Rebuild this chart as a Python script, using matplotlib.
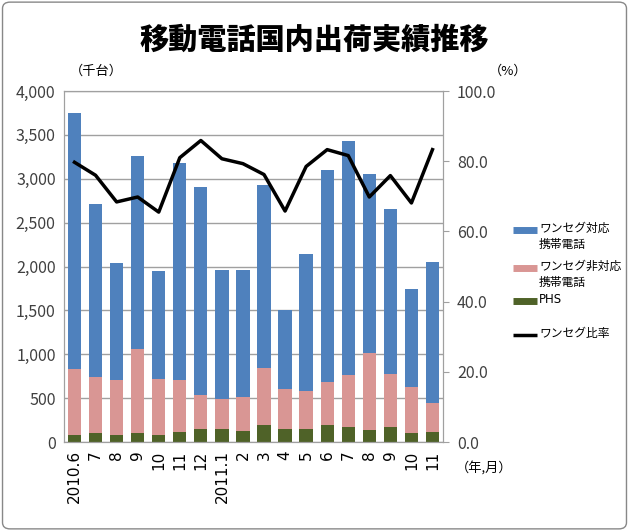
import matplotlib.pyplot as plt
import numpy as np
from matplotlib.lines import Line2D
from matplotlib.patches import FancyBboxPatch

plt.rcParams['font.family'] = ['Noto Sans CJK JP', 'DejaVu Sans']

# 月
months = ['2010.6', '7', '8', '9', '10', '11', '12', '2011.1', '2', '3',
          '4', '5', '6', '7', '8', '9', '10', '11']
# 各系列の積み上げ上端 (千台) から読み取り
total = [3750, 2710, 2040, 3260, 1945, 3175, 2905, 1965, 1965, 2930,
         1500, 2140, 3100, 3430, 3055, 2650, 1740, 2050]
pink_top = [836, 737, 707, 1063, 719, 707, 536, 494, 513, 848,
            608, 577, 685, 760, 1017, 771, 631, 448]
phs = [83, 103, 83, 103, 83, 118, 148, 148, 129, 190,
       148, 148, 190, 167, 137, 167, 103, 114]
# ワンセグ比率 (%)
ratio = [79.7, 76.0, 68.4, 69.8, 65.5, 81.0, 85.9, 80.7, 79.3, 76.2,
         65.8, 78.5, 83.3, 81.6, 69.8, 75.9, 68.1, 83.3]

phs = np.array(phs)
non1seg = np.array(pink_top) - phs
oneseg = np.array(total) - np.array(pink_top)

blue = '#4F81BD'
pink = '#D99694'
green = '#4F6228'

fig = plt.figure(figsize=(6.29, 5.31), dpi=100)
fig.patches.append(FancyBboxPatch((0.004, 0.004), 0.992, 0.992, boxstyle='round,pad=0,rounding_size=0.012',
                                  transform=fig.transFigure, fill=False, edgecolor='#888888', linewidth=1))

ax = fig.add_axes([0.1017, 0.1676, 0.6026, 0.661])
x = np.arange(len(months))
w = 0.63
ax.bar(x, phs, w, color=green, zorder=2)
ax.bar(x, non1seg, w, bottom=phs, color=pink, zorder=2)
ax.bar(x, oneseg, w, bottom=np.array(pink_top), color=blue, zorder=2)

ax.set_xlim(-0.5, len(months) - 0.5)
ax.set_ylim(0, 4000)
ax.set_yticks(range(0, 4001, 500))
ax.set_yticklabels([f'{v:,}' for v in range(0, 4001, 500)], fontsize=11.5, color='#404040')
ax.set_xticks(x)
ax.set_xticklabels(months, rotation=90, fontsize=11, family='DejaVu Sans')
ax.yaxis.grid(True, color='#A0A0A0', linewidth=1, zorder=0)
ax.set_axisbelow(True)
ax.tick_params(axis='both', length=0, pad=6)
for s in ax.spines.values():
    s.set_color('#A0A0A0')

ax2 = ax.twinx()
ax2.plot(x, ratio, color='black', linewidth=2.5, zorder=5)
ax2.set_ylim(0, 100)
ax2.set_yticks(range(0, 101, 20))
ax2.set_yticklabels([f'{v:.1f}' for v in range(0, 101, 20)], fontsize=11.5, color='#404040')
ax2.tick_params(axis='y', length=4, color='#A0A0A0', pad=6)
for s in ax2.spines.values():
    s.set_color('#A0A0A0')

fig.text(0.5, 0.925, '移動電話国内出荷実績推移', ha='center', va='center', fontsize=21, fontweight='heavy')
fig.text(0.153, 0.866, '（千台）', ha='center', va='center', fontsize=9.5)
fig.text(0.808, 0.866, '（%）', ha='center', va='center', fontsize=9.5)
fig.text(0.77, 0.12, '（年,月）', ha='center', va='center', fontsize=9.5)

# 凡例 (手動配置)
legend_items = [(blue, 5, 'ワンセグ対応\n携帯電話', 230),
                (pink, 5, 'ワンセグ非対応\n携帯電話', 268),
                (green, 5, 'PHS', 301),
                ('black', 2.5, 'ワンセグ比率', 335)]
for color, lw, label, ypx in legend_items:
    yf = 1 - ypx / 531
    fig.add_artist(Line2D([513 / 629, 537 / 629], [yf, yf], color=color, lw=lw,
                          solid_capstyle='butt', transform=fig.transFigure))
    fig.text(539 / 629, yf + 0.016, label, ha='left', va='top', fontsize=8.5, linespacing=1.3,
             family='DejaVu Sans' if label == 'PHS' else None)

fig.savefig('out.png')
